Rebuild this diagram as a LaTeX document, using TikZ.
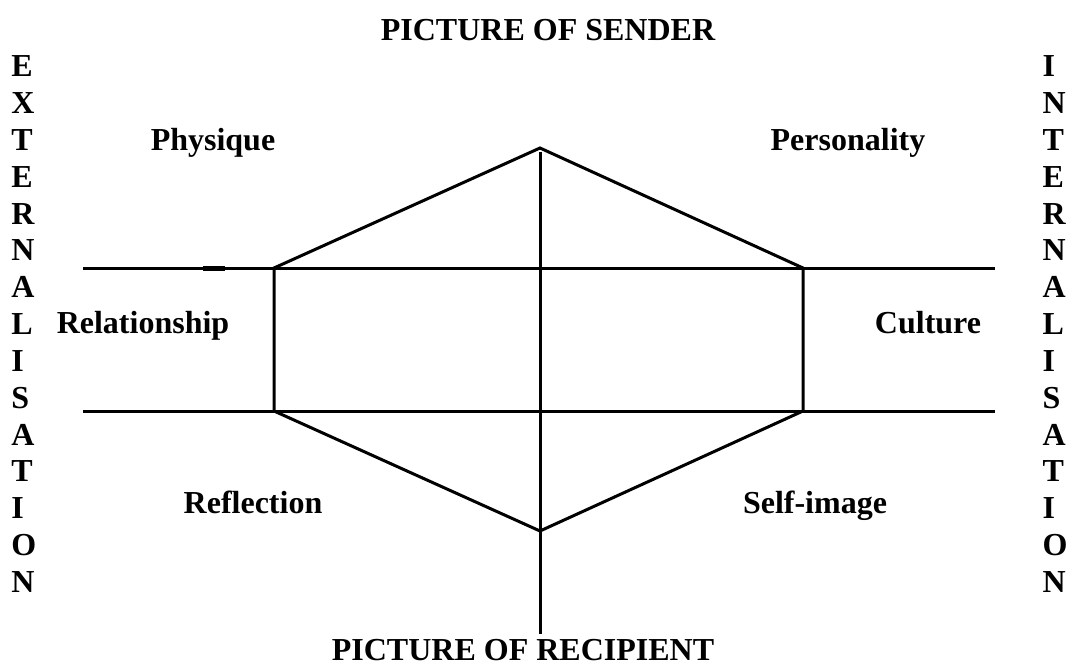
\documentclass[tikz,border=0pt]{standalone}
\usepackage{fontspec}
\setmainfont{Liberation Serif}
\usetikzlibrary{positioning}

\begin{document}
\begin{tikzpicture}[x=1pt, y=-1pt, line width=3pt,
    lbl/.style={font=\fontsize{32}{38}\selectfont\bfseries, anchor=base, inner sep=0pt},
    vlet/.style={lbl, anchor=base west}]
\useasboundingbox (0,0) rectangle (1072,666);
\coordinate (top)  at (540,148);
\coordinate (bot)  at (540,531);
\coordinate (stemtop) at (540,152);
\coordinate (stembot) at (540,634);
\coordinate (tl) at (274,268);
\coordinate (tr) at (803,268);
\coordinate (bl) at (274,411);
\coordinate (br) at (803,411);
\coordinate (ul) at (83,268);
\coordinate (ur) at (995,268);
\coordinate (ll) at (83,411);
\coordinate (lr) at (995,411);
\coordinate (blipa) at (203,268);
\coordinate (blipb) at (225,268);
\node[lbl] (sender)    at (548,41)  {PICTURE OF SENDER};
\node[lbl] (recipient) at (523,660) {PICTURE OF RECIPIENT};
\node[lbl] (phys) at (213,151) {Physique};
\node[lbl] (pers) at (848,151) {Personality};
\node[lbl] (rel)  at (143,333) {Relationship};
\node[lbl] (cult) at (928,333) {Culture};
\node[lbl] (refl) at (253,513) {Reflection};
\node[lbl] (self) at (815,513) {Self-image};
\foreach \ch [count=\i from 0] in {E,X,T,E,R,N,A,L,I,S,A,T,I,O,N}
  \node[vlet] (ext\i) at (10,77+36.8*\i) {\ch};
\foreach \ch [count=\i from 0] in {I,N,T,E,R,N,A,L,I,S,A,T,I,O,N}
  \node[vlet] (int\i) at (1041,77+36.8*\i) {\ch};
\draw (ul) -- (ur);
\draw (ll) -- (lr);
\draw (tl) -- (top) -- (tr) -- (br) -- (bot) -- (bl) -- cycle;
\draw (stemtop) -- (stembot);
\draw[line width=5pt] (blipa) -- (blipb);
\end{tikzpicture}
\end{document}
